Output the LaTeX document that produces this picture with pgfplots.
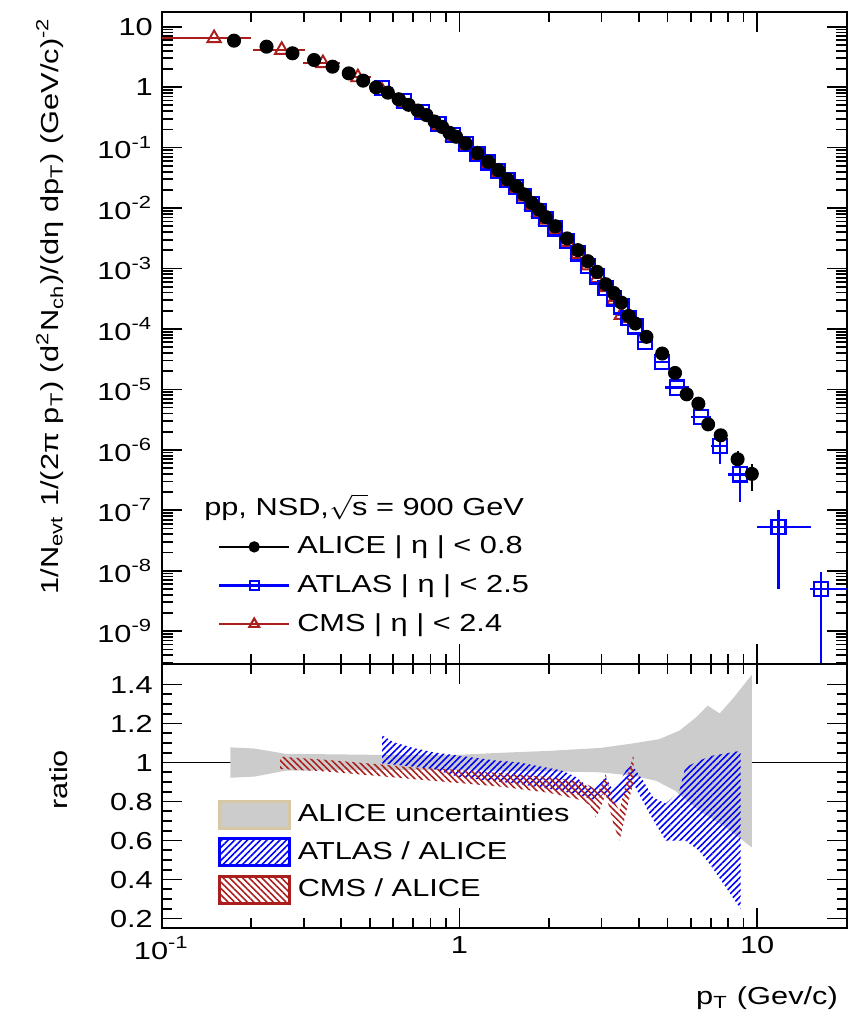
\documentclass[border=0pt]{standalone}
\usepackage{fontspec}
\setmainfont{Liberation Sans}[FakeStretch=1.25]
\usepackage{pgfplots}
\pgfplotsset{compat=1.18}
\usetikzlibrary{patterns.meta}
\definecolor{cmsred}{RGB}{170,30,30}
\definecolor{alicegray}{RGB}{204,204,204}
\definecolor{boxtan}{RGB}{215,200,165}
\pgfplotsset{
  lineleg/.style={legend image code/.code={\draw[mark repeat=2,mark phase=2,##1] plot coordinates {(0cm,0cm)(0.35cm,0cm)(0.7cm,0cm)};}},
  boxleg/.style={legend image code/.code={\draw[##1,draw=#1,line width=0.8pt] (0cm,-0.135cm) rectangle (0.7cm,0.135cm);}},
}

\begin{document}
\fontsize{7.0}{8.2}\selectfont
\begin{tikzpicture}
% ---------------- spectrum ----------------
\begin{axis}[name=top, at={(0cm,0cm)}, anchor=north west,
  scale only axis, width=6.85cm, height=6.52cm,
  xmode=log, xmin=0.1, xmax=20, ymode=log, ymin=2.9e-10, ymax=17.7,
  tick align=inside, major tick length=0.2cm, minor tick length=0.1cm,
  axis line style={line width=0.6pt}, tick style={black, line width=0.5pt},
  xtick={0.1,1,10}, xticklabels={,,},
  minor xtick={0.2,0.3,0.4,0.5,0.6,0.7,0.8,0.9,2,3,4,5,6,7,8,9,20},
  ytick={1e-9,1e-8,1e-7,1e-6,1e-5,1e-4,1e-3,1e-2,1e-1,1,10},
  extra y ticks={3e-10,4e-10,5e-10,6e-10,7e-10,8e-10,9e-10,
    2e-9,3e-9,4e-9,5e-9,6e-9,7e-9,8e-9,9e-9, 2e-8,3e-8,4e-8,5e-8,6e-8,7e-8,8e-8,9e-8,
    2e-7,3e-7,4e-7,5e-7,6e-7,7e-7,8e-7,9e-7, 2e-6,3e-6,4e-6,5e-6,6e-6,7e-6,8e-6,9e-6,
    2e-5,3e-5,4e-5,5e-5,6e-5,7e-5,8e-5,9e-5, 2e-4,3e-4,4e-4,5e-4,6e-4,7e-4,8e-4,9e-4,
    2e-3,3e-3,4e-3,5e-3,6e-3,7e-3,8e-3,9e-3, 0.02,0.03,0.04,0.05,0.06,0.07,0.08,0.09,
    0.2,0.3,0.4,0.5,0.6,0.7,0.8,0.9, 2,3,4,5,6,7,8,9},
  extra y tick labels={},
  extra y tick style={major tick length=0.11cm},
  yticklabels={10\textsuperscript{-9},10\textsuperscript{-8},10\textsuperscript{-7},10\textsuperscript{-6},10\textsuperscript{-5},10\textsuperscript{-4},10\textsuperscript{-3},10\textsuperscript{-2},10\textsuperscript{-1},1,10},
  ylabel={1/N\textsubscript{evt} 1/(2π p\textsubscript{T}) (d\textsuperscript{2}N\textsubscript{ch})/(dη dp\textsubscript{T}) (GeV/c)\textsuperscript{-2}},
  ylabel style={at={(axis description cs:-0.163,1.005)}, anchor=east},
  legend style={at={(axis description cs:0.066,0.283)}, anchor=north west, draw=none, fill=none, row sep=0.03cm},
  legend cell align=left,
]
\addlegendimage{empty legend}
\addlegendentry{\hspace*{-0.93cm}pp, NSD,$\sqrt{\mbox{s}}$ = 900 GeV}
\addlegendimage{black, mark=*, mark size=1.3pt, line width=0.6pt, lineleg}
\addlegendentry{ALICE | η | < 0.8}
\addlegendimage{blue, mark=square, mark size=1.3pt, line width=0.6pt, lineleg}
\addlegendentry{ATLAS | η | < 2.5}
\addlegendimage{cmsred, mark=triangle, mark size=1.6pt, line width=0.6pt, lineleg}
\addlegendentry{CMS | η | < 2.4}

% CMS
\addplot[cmsred, only marks, mark=triangle, mark size=2.2pt, line width=0.55pt, forget plot,
  error bars/.cd, x dir=both, x explicit, error mark=none, error bar style={cmsred, line width=0.6pt}]
coordinates {
 (0.15,6.43) +- (0.05,0) (0.253,4.11) +- (0.05,0) (0.348,2.48) +- (0.05,0) (0.456,1.45) +- (0.05,0)
 (0.55,0.864) +- (0.05,0) (0.65,0.54) +- (0.05,0) (0.75,0.357) +- (0.05,0) (0.85,0.23) +- (0.05,0)
 (0.95,0.153) +- (0.05,0) (1.05,0.109) +- (0.05,0) (1.15,0.0753) +- (0.05,0) (1.25,0.0539) +- (0.05,0)
 (1.35,0.0392) +- (0.05,0) (1.45,0.0274) +- (0.05,0) (1.55,0.0213) +- (0.05,0) (1.65,0.0154) +- (0.05,0)
 (1.75,0.0111) +- (0.05,0) (1.85,0.0086) +- (0.05,0) (1.95,0.0064) +- (0.05,0) (2.1,0.00445) +- (0.1,0)
 (2.3,0.00273) +- (0.1,0) (2.5,0.00173) +- (0.1,0) (2.7,0.00112) +- (0.1,0) (2.9,6.9e-4) +- (0.1,0)
 (3.1,4.9e-4) +- (0.1,0) (3.3,2.95e-4) +- (0.1,0) (3.5,1.7e-4) +- (0.1,0) (3.75,1.5e-4) +- (0.1,0)
};
% ATLAS
\addplot[blue, only marks, mark=square, mark size=2pt, line width=0.65pt, forget plot,
  error bars/.cd, x dir=both, x explicit, y dir=both, y explicit, error mark=none, error bar style={blue, line width=0.65pt}]
coordinates {
 (0.55,0.96) +- (0.05,0) (0.65,0.59) +- (0.05,0) (0.75,0.384) +- (0.05,0) (0.85,0.246) +- (0.05,0)
 (0.95,0.163) +- (0.05,0) (1.05,0.116) +- (0.05,0) (1.15,0.079) +- (0.05,0) (1.25,0.0566) +- (0.05,0)
 (1.35,0.0411) +- (0.05,0) (1.45,0.0288) +- (0.05,0) (1.55,0.0222) +- (0.05,0) (1.65,0.0160) +- (0.05,0)
 (1.75,0.0116) +- (0.05,0) (1.85,0.0089) +- (0.05,0) (1.95,0.0066) +- (0.05,0) (2.1,0.0046) +- (0.1,0)
 (2.3,0.00286) +- (0.1,0) (2.5,0.00177) +- (0.1,0) (2.7,0.00111) +- (0.1,0) (2.9,7.4e-4) +- (0.1,0)
 (3.1,4.8e-4) +- (0.1,0) (3.3,3.2e-4) +- (0.1,0) (3.5,2.35e-4) +- (0.1,0) (3.7,1.53e-4) +- (0.1,0)
 (3.9,1.1e-4) +- (0.1,0) (4.21,6.1e-5) +- (0.25,0) (4.79,2.84e-5) +- (0.25,0) (5.39,1.07e-5) +- (0.5,0)
 (6.49,3.5e-6) +- (0.5,0)
 (7.51,1.16e-6) += (0.5,3e-7) -= (0.5,5.7e-7)
 (8.77,3.93e-7) += (0.65,1e-7) -= (0.77,2.56e-7)
 (11.8,5.27e-8) += (3.4,4.9e-8) -= (1.8,4.77e-8)
 (16.4,5.0e-9) += (3.6,4.5e-9) -= (1.4,4.999e-9)
};
% ALICE
\addplot[black, only marks, mark=*, mark size=1.8pt, forget plot,
  error bars/.cd, y dir=both, y explicit, error mark=none, error bar style={black, line width=0.6pt}]
coordinates {
 (0.175,5.87) (0.225,4.67) (0.275,3.63) (0.325,2.81) (0.375,2.18) (0.425,1.69) (0.475,1.28)
 (0.525,0.99) (0.575,0.81) (0.625,0.63) (0.675,0.51) (0.725,0.41) (0.775,0.345) (0.825,0.27)
 (0.875,0.22) (0.925,0.176) (0.975,0.151) (1.05,0.117) (1.15,0.081) (1.25,0.058) (1.35,0.0424)
 (1.45,0.0298) (1.55,0.0231) (1.65,0.0168) (1.75,0.0122) (1.85,0.0095) (1.95,0.0071) (2.1,0.0050)
 (2.3,0.00314) (2.5,0.00201) (2.7,0.00132) (2.9,8.8e-4) (3.1,5.5e-4) (3.3,3.94e-4) (3.5,2.73e-4)
 (3.7,1.64e-4) (3.9,1.23e-4) (4.25,7.4e-5) (4.8,3.92e-5) (5.3,1.87e-5) (5.8,8.3e-6) (6.35,5.8e-6)
 (6.85,2.64e-6) (7.55,1.74e-6) +- (0,3e-7)
 (8.6,7.0e-7) += (0,2.7e-7) -= (0,1.9e-7)
 (9.6,4.0e-7) +- (0,1.9e-7)
};
\end{axis}

% ---------------- ratio ----------------
\begin{axis}[name=bot, at={(0cm,-6.52cm)}, anchor=north west,
  scale only axis, width=6.85cm, height=2.64cm,
  xmode=log, xmin=0.1, xmax=20, ymin=0.153, ymax=1.507,
  tick align=inside, major tick length=0.2cm, minor tick length=0.1cm,
  axis line style={line width=0.6pt}, tick style={black, line width=0.5pt},
  xtick={0.1,1,10}, xticklabels={10\textsuperscript{-1},1,10},
  minor xtick={0.2,0.3,0.4,0.5,0.6,0.7,0.8,0.9,2,3,4,5,6,7,8,9,20},
  ytick={0.2,0.4,0.6,0.8,1,1.2,1.4}, minor y tick num=3,
  /pgf/number format/assume math mode=true,
  ylabel={ratio},
  ylabel style={at={(axis description cs:-0.15,0.56)}, anchor=center},
  xlabel={p\textsubscript{T} (Gev/c)},
  xlabel style={at={(axis description cs:1,0)}, anchor=north east, yshift=-0.5cm},
  legend style={at={(axis description cs:0.0657,0.525)}, anchor=north west, draw=none, fill=none, row sep=0.02cm},
  legend cell align=left,
]
\addplot[black, line width=0.5pt, forget plot] coordinates {(0.1,1) (20,1)};
% ALICE uncertainties
\addplot[fill=alicegray, draw=none, boxleg=boxtan]
coordinates {
 (0.17,1.078) (0.205,1.072) (0.26,1.045) (0.5,1.04) (1.0,1.04) (1.37,1.05) (2.0,1.06) (2.97,1.075)
 (3.82,1.098) (4.69,1.12) (5.49,1.164) (6.24,1.232) (6.82,1.292) (7.49,1.252) (8.27,1.326) (9.6,1.45)
 (9.6,0.565) (7.85,0.668) (6.39,0.753) (5.3,0.856) (4.57,0.907) (3.82,0.933) (2.97,0.95) (2.0,0.955)
 (1.37,0.958) (1.0,0.962) (0.5,0.962) (0.26,0.958) (0.205,0.928) (0.17,0.922)
} -- cycle;
\addlegendentry{ALICE uncertainties}
% ATLAS / ALICE
\addplot[draw=none, pattern={Lines[angle=45,distance=1.3pt,line width=0.45pt]}, pattern color=blue, boxleg=blue]
coordinates {
 (0.55,1.14) (0.6,1.105) (0.7,1.075) (0.82,1.052) (1.0,1.035) (1.3,1.012) (1.6,1.0) (1.8,0.985)
 (2.2,0.96) (2.47,0.925) (2.7,0.875) (2.87,0.87) (3.1,0.925) (3.27,0.86) (3.5,0.92) (3.72,0.985)
 (3.85,0.975) (4.14,0.907) (4.48,0.82) (4.93,0.79) (5.47,0.85) (5.74,0.975) (6.39,1.01) (7.06,1.035) (8.8,1.06)
 (8.8,0.25) (7.06,0.463) (6.39,0.548) (5.74,0.6) (4.93,0.6) (4.36,0.736) (3.85,0.89) (3.6,0.82)
 (3.27,0.788) (3.05,0.84) (2.87,0.805) (2.47,0.839) (2.0,0.865) (1.59,0.89) (1.0,0.925) (0.82,0.967)
 (0.6,0.99) (0.55,0.995)
} -- cycle;
\addlegendentry{ATLAS / ALICE}
% CMS / ALICE
\addplot[draw=none, pattern={Lines[angle=-45,distance=1.3pt,line width=0.45pt]}, pattern color=cmsred, boxleg=cmsred]
coordinates {
 (0.25,1.03) (0.35,1.015) (0.5,0.995) (0.7,0.975) (1.0,0.962) (1.4,0.945) (2.0,0.925) (2.35,0.91)
 (2.6,0.9) (2.78,0.875) (2.87,0.856) (2.95,0.86) (3.1,0.94) (3.25,0.82) (3.45,0.753) (3.7,0.95) (3.85,1.045)
 (3.85,0.905) (3.7,0.8) (3.45,0.6) (3.3,0.68) (3.1,0.84) (2.95,0.75) (2.87,0.72) (2.75,0.78) (2.6,0.805)
 (2.0,0.845) (1.4,0.875) (1.0,0.895) (0.7,0.915) (0.5,0.935) (0.35,0.955) (0.25,0.967)
} -- cycle;
\addlegendentry{CMS / ALICE}
\end{axis}
\pgfresetboundingbox
\path[use as bounding box] (-1.617,0.117) rectangle (6.883,-10.113);
\end{tikzpicture}
\end{document}
